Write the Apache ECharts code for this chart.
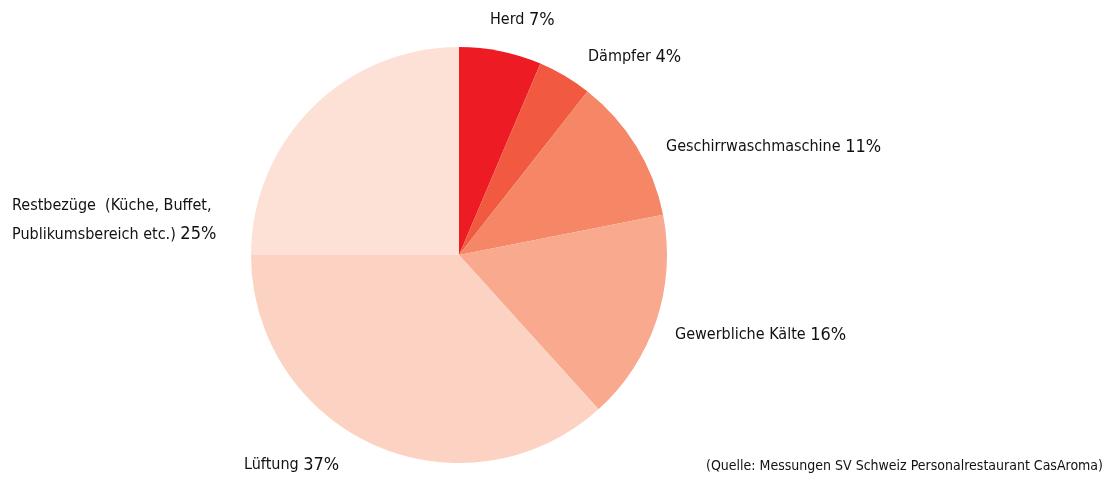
<!DOCTYPE html>
<html><head><meta charset="utf-8">
<script src="https://cdn.jsdelivr.net/npm/echarts@6/dist/echarts.min.js"></script>
<style>html,body{margin:0;padding:0;background:#fff}#c{width:1107px;height:478px}</style>
</head><body><div id="c"></div>
<script>
const categories = ['Herd', 'Dämpfer', 'Geschirrwaschmaschine', 'Gewerbliche Kälte', 'Lüftung', 'Restbezüge  (Küche, Buffet,\nPublikumsbereich etc.)'];
const values = [6.4, 4.2, 11.3, 16.4, 36.7, 25.0];
const percentLabels = ['7%', '4%', '11%', '16%', '37%', '25%'];
const colors = ['#ED1C24', '#F15A40', '#F58766', '#F9A98E', '#FCD3C2', '#FDE1D6'];
const source = '(Quelle: Messungen SV Schweiz Personalrestaurant CasAroma)';
const FONT = '"Liberation Sans Narrow", "DejaVu Sans Condensed", "Roboto", sans-serif';
// label anchor positions (layout only)
const labelPos = [[490, 20], [588, 57], [666, 147], [675, 335], [244, 465], [12, 220]];

const chart = echarts.init(document.getElementById('c'));
chart.setOption({
  animation: false,
  series: [{
    type: 'pie',
    center: [459, 255],
    radius: 208,
    startAngle: 90,
    clockwise: true,
    data: categories.map((n, i) => ({ name: n, value: values[i], itemStyle: { color: colors[i] } })),
    label: {
      show: true,
      position: 'outside',
      formatter: p => {
        const lines = p.name.split('\n');
        const last = lines.pop();
        return lines.map(l => '{n|' + l + '}').concat(['{n|' + last + ' }{v|' + percentLabels[p.dataIndex] + '}']).join('\n');
      },
      rich: {
        n: { fontFamily: FONT, fontSize: 16, color: '#111', lineHeight: 29 },
        v: { fontFamily: FONT, fontSize: 18, color: '#111', lineHeight: 29 }
      }
    },
    labelLine: { show: false },
    labelLayout: p => ({ x: labelPos[p.dataIndex][0], y: labelPos[p.dataIndex][1], align: 'left', verticalAlign: 'middle', moveOverlap: false }),
    emphasis: { disabled: true }
  }],
  graphic: [{
    type: 'text', right: 4, top: 459,
    style: { text: source, font: '14px ' + FONT, fill: '#111' }
  }]
});
</script></body></html>
